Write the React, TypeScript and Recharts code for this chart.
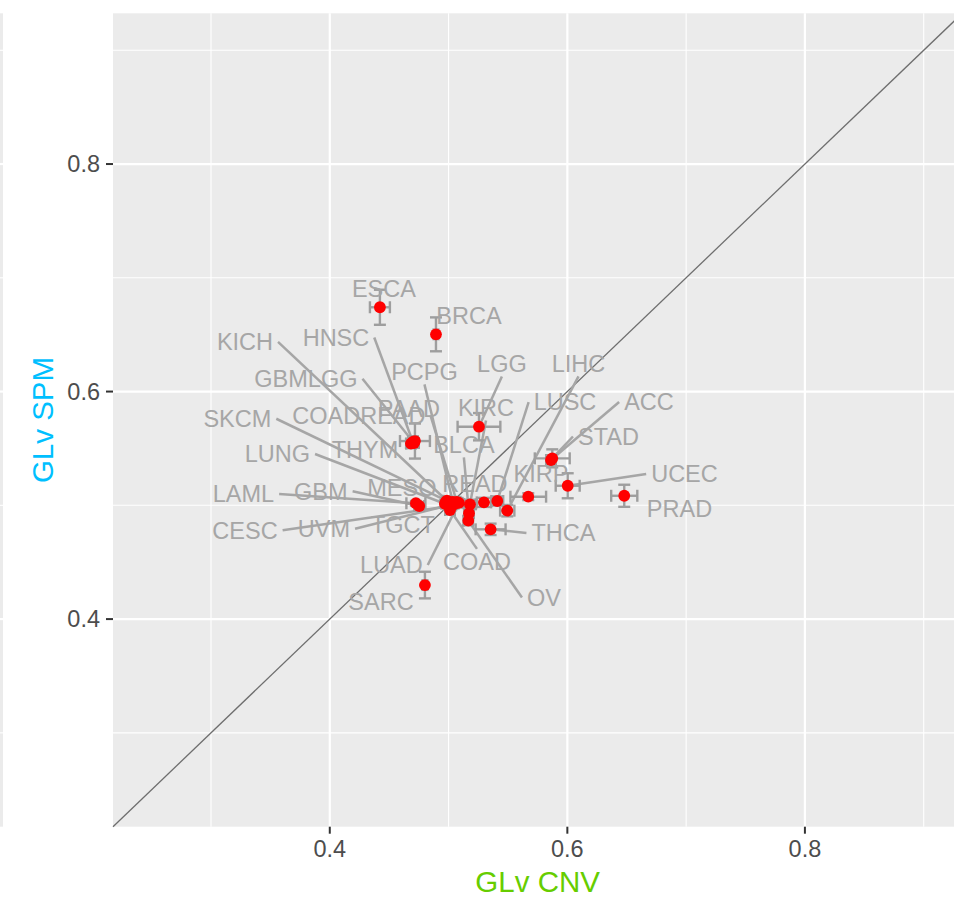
import React from 'react';
import { ScatterChart, Scatter, XAxis, YAxis, ErrorBar, ReferenceLine, CartesianGrid } from 'recharts';

// ---- data ----
const cancerTypes = [
  'ACC', 'BLCA', 'BRCA', 'CESC', 'COAD', 'COADREAD', 'ESCA', 'GBM', 'GBMLGG', 'HNSC', 'KICH',
  'KIRC', 'KIRP', 'LAML', 'LGG', 'LIHC', 'LUAD', 'LUNG', 'LUSC', 'MESO', 'OV', 'PAAD',
  'PCPG', 'PRAD', 'READ', 'SARC', 'SKCM', 'STAD', 'TGCT', 'THCA', 'THYM', 'UCEC', 'UVM',
];
const glvCnv = [
  0.5862, 0.5172, 0.4894, 0.5028, 0.5012, 0.5070, 0.4422, 0.4753, 0.4709, 0.4700, 0.4986,
  0.5180, 0.5671, 0.4725, 0.5256, 0.5494, 0.5087, 0.4969, 0.5410, 0.4978, 0.5166, 0.4717,
  0.5036, 0.6479, 0.5298, 0.4801, 0.5003, 0.5873, 0.4995, 0.5354, 0.4683, 0.6003, 0.5053,
];
const glvSpm = [
  0.5398, 0.4930, 0.6503, 0.4996, 0.4959, 0.5031, 0.6741, 0.4994, 0.5548, 0.5557, 0.5040,
  0.5009, 0.5076, 0.5018, 0.5691, 0.4953, 0.5022, 0.5014, 0.5038, 0.5031, 0.4865, 0.5565,
  0.5031, 0.5084, 0.5026, 0.4299, 0.5031, 0.5413, 0.5005, 0.4789, 0.5543, 0.5172, 0.5014,
];
const glvCnvErr = [
  0.004, 0.004, 0.002, 0.003, 0.004, 0.003, 0.0084, 0.004, 0.004, 0.004, 0.003,
  0.005, 0.015, 0.008, 0.018, 0.006, 0.003, 0.003, 0.005, 0.003, 0.004, 0.0126,
  0.003, 0.011, 0.006, 0.002, 0.003, 0.0147, 0.003, 0.0126, 0.004, 0.0101, 0.003,
];
const glvSpmErr = [
  0.004, 0.004, 0.0149, 0.003, 0.004, 0.003, 0.0154, 0.003, 0.004, 0.005, 0.003,
  0.004, 0.003, 0.002, 0.012, 0.005, 0.003, 0.003, 0.004, 0.003, 0.004, 0.0154,
  0.003, 0.0097, 0.004, 0.0117, 0.003, 0.0079, 0.003, 0.005, 0.004, 0.011, 0.003,
];
// repelled label positions (data units)
const labelCnv = [
  0.6687, 0.5129, 0.5172, 0.3286, 0.5239, 0.4245, 0.4456, 0.3925, 0.3799, 0.4052, 0.3286,
  0.5315, 0.5778, 0.3273, 0.5449, 0.6094, 0.4519, 0.3559, 0.5980, 0.4607, 0.5803, 0.4666,
  0.4797, 0.6944, 0.5222, 0.4431, 0.3222, 0.6346, 0.4616, 0.5967, 0.4296, 0.6986, 0.3951,
];
const labelSpm = [
  0.5908, 0.5530, 0.6664, 0.4780, 0.4508, 0.5791, 0.6906, 0.5123, 0.6113, 0.6475, 0.6436,
  0.5855, 0.5275, 0.5099, 0.6242, 0.6242, 0.4475, 0.5451, 0.5908, 0.5152, 0.4190, 0.5849,
  0.6172, 0.4970, 0.5187, 0.4154, 0.5761, 0.5605, 0.4827, 0.4757, 0.5486, 0.5275, 0.4794,
];
const xTicks = [0.4, 0.6, 0.8];
const yTicks = [0.4, 0.6, 0.8];
const majorBreaks = [0.4, 0.6, 0.8];
const minorBreaks = [0.3, 0.5, 0.7, 0.9];
const axisLimits: [number, number] = [0.2175, 0.9325];

// ---- layout / style ----
const FONT = '"Liberation Sans", Arial, Helvetica, sans-serif';
const CHART_W = 980;
const CHART_H = 900;
const MARGIN = { top: 13.3, right: 17.7, bottom: 0, left: 0 };
const Y_AXIS_W = 113;
const X_AXIS_H = 73.3;
const PLOT_W = CHART_W - MARGIN.left - MARGIN.right - Y_AXIS_W;
const PLOT_H = CHART_H - MARGIN.top - MARGIN.bottom - X_AXIS_H;
const SPAN = axisLimits[1] - axisLimits[0];
const PX_X = PLOT_W / SPAN;
const PX_Y = PLOT_H / SPAN;
const LABEL_FS = 23.5;
const CAP = 0.716;
const PANEL = '#EBEBEB';
const LABEL_COL = '#A6A6A6';
const ERR_COL = '#9E9E9E';

let ctx: CanvasRenderingContext2D | null = null;
const textWidth = (s: string) => {
  if (!ctx && typeof document !== 'undefined') ctx = document.createElement('canvas').getContext('2d');
  if (!ctx) return s.length * LABEL_FS * 0.66;
  ctx.font = `${LABEL_FS}px "Liberation Sans", Arial, sans-serif`;
  return ctx.measureText(s).width;
};

const points = cancerTypes.map((name, i) => ({
  name, x: glvCnv[i], y: glvSpm[i], ex: glvCnvErr[i], ey: glvSpmErr[i],
}));
const labels = cancerTypes.map((name, i) => ({ name, x: labelCnv[i], y: labelSpm[i] }));

// ggrepel-like leader segments: from label box edge to the data point
const segments = cancerTypes
  .map((name, i) => {
    const dx = (glvCnv[i] - labelCnv[i]) * PX_X;
    const dy = -(glvSpm[i] - labelSpm[i]) * PX_Y;
    const hw = textWidth(name) / 2;
    const hh = (CAP * LABEL_FS) / 2;
    let sx = 0;
    let sy = 0;
    if (Math.abs(dx) > 0.6 * Math.abs(dy)) sx = Math.sign(dx) * (hw + 5);
    else sy = Math.sign(dy) * (hh + 4);
    if (Math.hypot(dx - sx, dy - sy) < 24) return null;
    return {
      name,
      seg: [
        { x: labelCnv[i] + sx / PX_X, y: labelSpm[i] - sy / PX_Y },
        { x: glvCnv[i], y: glvSpm[i] },
      ],
    };
  })
  .filter(Boolean) as { name: string; seg: { x: number; y: number }[] }[];

const PointShape = (p: any) => <circle cx={p.cx} cy={p.cy} r={5.9} fill="#FF0000" />;
const LabelShape = (p: any) => (
  <text
    x={p.cx}
    y={p.cy + (CAP * LABEL_FS) / 2}
    textAnchor="middle"
    fontSize={LABEL_FS}
    fontFamily={FONT}
    fill={LABEL_COL}
  >
    {p.payload.name}
  </text>
);

const XTitle = (props: any) => {
  const vb = props.viewBox || {};
  return (
    <text x={vb.x + vb.width / 2} y={891.5} textAnchor="middle" fontSize={29.5} fontFamily={FONT} fill="#66CD00">
      GLv CNV
    </text>
  );
};
const YTitle = (props: any) => {
  const vb = props.viewBox || {};
  const cy = vb.y + vb.height / 2;
  return (
    <text
      transform={`translate(53, ${cy}) rotate(-90)`}
      textAnchor="middle"
      fontSize={29.5}
      fontFamily={FONT}
      fill="#00BFFF"
    >
      GLv SPM
    </text>
  );
};

const sliverLines = [...majorBreaks.map((v) => ({ v, w: 2.2 })), ...minorBreaks.map((v) => ({ v, w: 1.1 }))];

export default function App() {
  return (
    <div style={{ position: 'absolute', left: 0, top: 0, width: 954, height: 900, overflow: 'hidden', background: '#fff' }}>
      <svg width={3} height={CHART_H} style={{ position: 'absolute', left: 0, top: 0 }}>
        <rect x={0} y={MARGIN.top} width={3} height={PLOT_H} fill={PANEL} />
        {sliverLines.map((l) => (
          <line key={l.v} x1={0} x2={3} y1={MARGIN.top + (axisLimits[1] - l.v) * PX_Y} y2={MARGIN.top + (axisLimits[1] - l.v) * PX_Y} stroke="#fff" strokeWidth={l.w} />
        ))}
      </svg>
      <div style={{ position: 'absolute', left: 0, top: 0 }}>
        <ScatterChart width={CHART_W} height={CHART_H} margin={MARGIN}>
          <CartesianGrid horizontal={false} vertical={false} fill={PANEL} zIndex={-300} />
          {minorBreaks.map((v) => (
            <ReferenceLine key={`mx${v}`} x={v} stroke="#FFFFFF" strokeWidth={1.1} zIndex={-250} />
          ))}
          {minorBreaks.map((v) => (
            <ReferenceLine key={`my${v}`} y={v} stroke="#FFFFFF" strokeWidth={1.1} zIndex={-250} />
          ))}
          {majorBreaks.map((v) => (
            <ReferenceLine key={`Mx${v}`} x={v} stroke="#FFFFFF" strokeWidth={2.2} zIndex={-240} />
          ))}
          {majorBreaks.map((v) => (
            <ReferenceLine key={`My${v}`} y={v} stroke="#FFFFFF" strokeWidth={2.2} zIndex={-240} />
          ))}
          <ReferenceLine
            segment={[{ x: axisLimits[0], y: axisLimits[0] }, { x: axisLimits[1], y: axisLimits[1] }]}
            stroke="#6E6E6E"
            strokeWidth={1.3}
            zIndex={-200}
          />
          {segments.map((s) => (
            <ReferenceLine key={`seg${s.name}`} segment={s.seg} stroke={LABEL_COL} strokeWidth={2.5} zIndex={-100} />
          ))}
          <XAxis
            type="number"
            dataKey="x"
            domain={axisLimits}
            ticks={xTicks}
            allowDataOverflow
            height={X_AXIS_H}
            axisLine={false}
            tickLine={{ stroke: '#333333', strokeWidth: 2 }}
            tickSize={7}
            tickMargin={7}
            tick={{ fill: '#4D4D4D', fontSize: 23.5, fontFamily: FONT }}
            tickFormatter={(v: number) => v.toFixed(1)}
            label={XTitle}
          />
          <YAxis
            type="number"
            dataKey="y"
            domain={axisLimits}
            ticks={yTicks}
            allowDataOverflow
            width={Y_AXIS_W}
            axisLine={false}
            tickLine={{ stroke: '#333333', strokeWidth: 2 }}
            tickSize={7}
            tickMargin={6}
            tick={{ fill: '#4D4D4D', fontSize: 23.5, fontFamily: FONT }}
            tickFormatter={(v: number) => v.toFixed(1)}
            label={YTitle}
          />
          <Scatter data={points} shape={PointShape} isAnimationActive={false} zIndex={600}>
            <ErrorBar dataKey="ex" direction="x" width={6} stroke={ERR_COL} strokeWidth={2.4} isAnimationActive={false} />
            <ErrorBar dataKey="ey" direction="y" width={6} stroke={ERR_COL} strokeWidth={2.4} isAnimationActive={false} />
          </Scatter>
          <Scatter data={labels} shape={LabelShape} isAnimationActive={false} zIndex={700} />
        </ScatterChart>
      </div>
    </div>
  );
}
